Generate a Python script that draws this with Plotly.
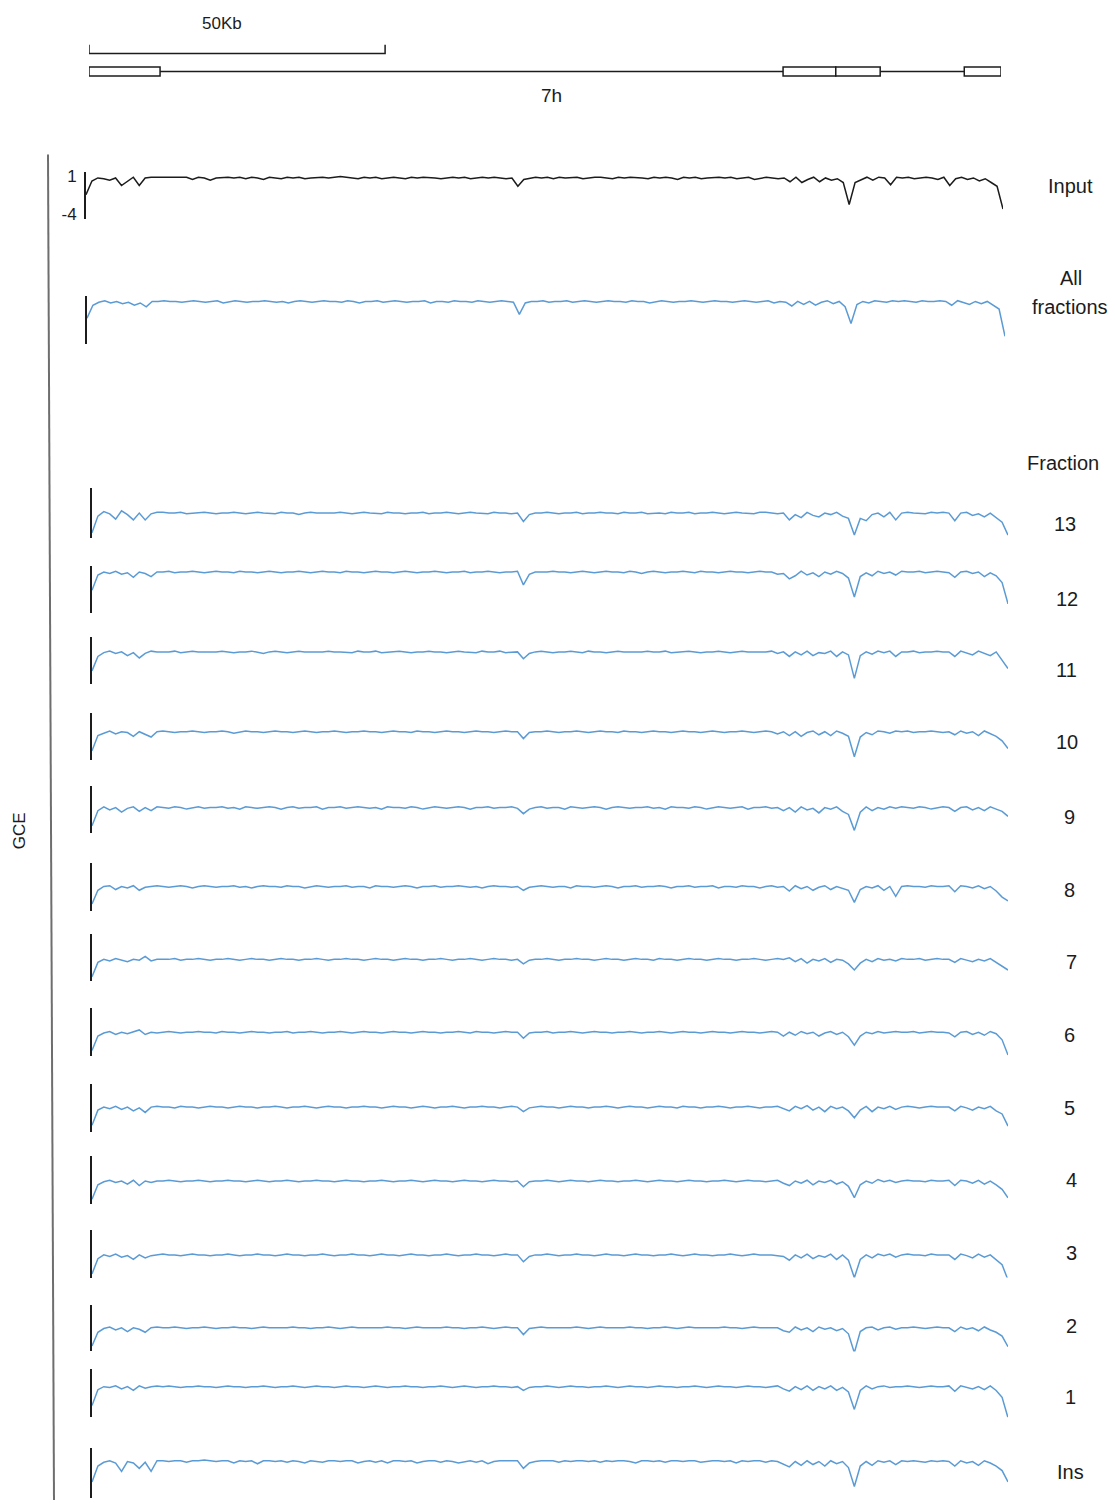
import plotly.graph_objects as go

W, H = 1115, 1505

# ---------------------------------------------------------------- gene model (kb)
GENE_START, GENE_END = 0.0, 154.0
EXON_STARTS = [0.0, 117.2, 126.1, 147.8]
EXON_ENDS = [12.0, 126.1, 133.6, 154.0]
SCALE_BAR_KB = [0.0, 50.0]
SCALE_LABEL = "50Kb"
GENE_LABEL = "7h"

# ---------------------------------------------------------------- coverage signals, 1 kb bins
INPUT = [
    -1.4, 0.4, 0.8, 0.7, 0.5, 0.8, -0.2, 0.4, 0.9, -0.2, 0.8, 0.9,
    0.9, 0.9, 0.8, 0.9, 0.9, 0.9, 0.6, 0.9, 0.8, 0.5, 0.8, 0.9, 0.9, 0.8, 0.9, 0.7, 0.9, 0.8, 0.6, 0.9,
    0.8, 0.7, 0.9, 0.8, 0.9, 0.7, 0.8, 0.9, 0.9, 0.8, 0.9, 1.0, 0.9, 0.8, 0.7, 0.9, 0.8, 0.9, 0.7, 0.8,
    0.9, 0.8, 0.7, 0.9, 0.8, 0.9, 0.9, 0.8, 0.7, 0.8, 0.9, 0.8, 0.9, 0.7, 0.8, 0.9, 0.8, 0.9, 0.8, 0.7,
    0.8,
    -0.3, 0.6,
    0.8, 0.9, 0.8, 0.9, 0.7, 0.9, 0.8, 0.8, 0.9, 0.7, 0.8, 0.9, 0.9, 0.8, 0.7, 0.9, 0.8, 0.9, 0.9, 0.8,
    0.7, 0.9, 0.8, 0.9, 0.8, 0.6, 0.9, 0.8, 0.9, 0.7, 0.8, 0.9, 0.9, 0.8, 0.9, 0.7, 0.8, 0.9, 0.6, 0.8,
    0.9, 0.8, 0.7,
    0.8, 0.3, 0.9, 0.2, 0.6, 0.9, 0.3, 0.8, 0.5, 0.7, 0.2,
    -2.7,
    0.2, 0.6, 0.9, 0.5, 0.9, 0.8, -0.1,
    0.9, 0.8, 0.9, 0.7, 0.8, 0.9, 0.8, 0.6, 0.9,
    -0.2, 0.7, 0.9, 0.6, 0.8, 0.4, 0.7, 0.2, -0.3,
    -3.3,
]

ALL_FRACTIONS = [
    -1.4, 0.3, 0.7, 0.9, 0.6, 0.8, 0.5, 0.7, 0.3, 0.6, 0.1, 0.8,
    0.8, 0.9, 0.8, 0.8, 0.7, 0.8, 0.9, 0.8, 0.7, 0.8, 0.9, 0.6, 0.8, 0.9, 0.8, 0.7, 0.8, 0.8, 0.9, 0.8,
    0.7, 0.8, 0.6, 0.8, 0.9, 0.8, 0.7, 0.8, 0.9, 0.8, 0.8, 0.7, 0.9, 0.8, 0.6, 0.8, 0.8, 0.9, 0.7, 0.8,
    0.9, 0.8, 0.7, 0.8, 0.8, 0.9, 0.6, 0.8, 0.8, 0.7, 0.9, 0.8, 0.8, 0.7, 0.9, 0.8, 0.7, 0.8, 0.9, 0.8,
    0.7,
    -0.9, 0.6,
    0.8, 0.8, 0.9, 0.7, 0.8, 0.8, 0.9, 0.7, 0.8, 0.9, 0.8, 0.7, 0.8, 0.9, 0.8, 0.8, 0.7, 0.9, 0.8, 0.8,
    0.6, 0.8, 0.9, 0.8, 0.7, 0.8, 0.8, 0.9, 0.8, 0.7, 0.8, 0.9, 0.8, 0.8, 0.7, 0.8, 0.9, 0.8, 0.7, 0.8,
    0.9, 0.6, 0.8,
    0.7, 0.2, 0.8, 0.4, 0.8, 0.3, 0.7, 0.9, 0.5, 0.8, 0.1,
    -2.1,
    0.4, 0.8, 0.6, 0.9, 0.8, 0.7, 0.9,
    0.8, 0.9, 0.8, 0.7, 0.9, 0.8, 0.8, 0.9, 0.8,
    0.3, 0.9, 0.7, 0.4, 0.8, 0.5, 0.8, 0.3, -0.2,
    -3.8,
]

FRACTION_13 = [
    -1.8, 0.4, 1.0, 0.7, 0.0, 1.1, 0.6, -0.1, 0.8, -0.1, 0.7, 0.9,
    0.9, 0.8, 0.8, 0.9, 0.7, 0.8, 0.8, 0.9, 0.8, 0.7, 0.8, 0.8, 0.9, 0.8, 0.7, 0.8, 0.9, 0.8, 0.8, 0.7,
    0.9, 0.8, 0.8, 0.6, 0.8, 0.9, 0.8, 0.8, 0.7, 0.8, 0.9, 0.8, 0.7, 0.8, 0.9, 0.8, 0.8, 0.7, 0.9, 0.8,
    0.8, 0.7, 0.8, 0.8, 0.9, 0.7, 0.8, 0.8, 0.9, 0.8, 0.7, 0.8, 0.9, 0.8, 0.8, 0.7, 0.9, 0.8, 0.8, 0.7,
    0.8,
    -0.3, 0.6,
    0.8, 0.8, 0.9, 0.8, 0.7, 0.8, 0.8, 0.9, 0.7, 0.8, 0.8, 0.9, 0.8, 0.8, 0.7, 0.9, 0.8, 0.8, 0.9, 0.7,
    0.8, 0.8, 0.7, 0.9, 0.8, 0.8, 0.9, 0.7, 0.8, 0.8, 0.9, 0.8, 0.7, 0.8, 0.9, 0.8, 0.8, 0.7, 0.9, 0.9,
    0.8, 0.7, 0.8,
    -0.1, 0.6, 0.2, 0.9, 0.5, 0.3, 0.8, 0.6, 0.9, 0.4, 0.1,
    -2.1,
    0.1, -0.2, 0.6, 0.8, 0.3, 0.9, -0.1,
    0.8, 0.9, 0.8, 0.8, 0.7, 0.9, 0.8, 0.9, 0.8,
    -0.2, 0.8, 0.9, 0.5, 0.7, 0.3, 0.8, 0.2, -0.4,
    -2.1,
]

FRACTION_12 = [
    -1.6, 0.4, 0.8, 0.6, 0.9, 0.5, 0.7, 0.1, 0.8, 0.6, 0.2, 0.8,
    0.8, 0.9, 0.7, 0.8, 0.8, 0.9, 0.8, 0.7, 0.8, 0.9, 0.8, 0.8, 0.7, 0.9, 0.8, 0.8, 0.7, 0.8, 0.9, 0.8,
    0.7, 0.8, 0.8, 0.9, 0.8, 0.7, 0.8, 0.9, 0.8, 0.8, 0.7, 0.9, 0.8, 0.8, 0.7, 0.8, 0.9, 0.8, 0.8, 0.7,
    0.8, 0.9, 0.8, 0.7, 0.8, 0.8, 0.9, 0.8, 0.7, 0.8, 0.8, 0.9, 0.7, 0.8, 0.8, 0.9, 0.8, 0.7, 0.8, 0.8,
    0.9,
    -0.9, 0.5,
    0.8, 0.8, 0.8, 0.9, 0.8, 0.8, 0.7, 0.8, 0.9, 0.8, 0.7, 0.8, 0.9, 0.8, 0.8, 0.7, 0.9, 0.8, 0.6, 0.8,
    0.9, 0.8, 0.7, 0.8, 0.8, 0.9, 0.8, 0.7, 0.9, 0.8, 0.8, 0.7, 0.8, 0.9, 0.8, 0.8, 0.7, 0.8, 0.9, 0.8,
    0.8, 0.5, 0.6,
    -0.1, 0.3, 0.9, 0.4, 0.7, 0.2, 0.8, 0.5, 0.9, 0.6, 0.0,
    -2.5,
    0.2, 0.7, 0.3, 0.9, 0.6, 0.8, 0.4,
    0.9, 0.8, 0.8, 0.9, 0.7, 0.8, 0.9, 0.8, 0.7,
    0.1, 0.8, 0.9, 0.6, 0.8, 0.2, 0.7, 0.3, -0.6,
    -3.4,
]

FRACTION_11 = [
    -1.7, 0.2, 0.7, 0.9, 0.6, 0.8, 0.3, 0.7, 0.0, 0.6, 0.9, 0.8,
    0.8, 0.8, 0.9, 0.7, 0.8, 0.9, 0.8, 0.8, 0.7, 0.8, 0.9, 0.8, 0.7, 0.8, 0.8, 0.9, 0.8, 0.6, 0.8, 0.9,
    0.8, 0.7, 0.8, 0.9, 0.8, 0.8, 0.7, 0.8, 0.9, 0.8, 0.8, 0.8, 0.7, 0.9, 0.8, 0.8, 0.9, 0.7, 0.8, 0.8,
    0.9, 0.8, 0.7, 0.8, 0.8, 0.9, 0.8, 0.8, 0.7, 0.8, 0.9, 0.8, 0.8, 0.7, 0.9, 0.8, 0.8, 0.9, 0.7, 0.8,
    0.8,
    -0.1, 0.6,
    0.8, 0.9, 0.8, 0.7, 0.8, 0.8, 0.9, 0.8, 0.7, 0.9, 0.8, 0.8, 0.7, 0.8, 0.9, 0.8, 0.8, 0.7, 0.8, 0.9,
    0.8, 0.8, 0.9, 0.7, 0.8, 0.8, 0.9, 0.8, 0.7, 0.8, 0.8, 0.9, 0.8, 0.7, 0.8, 0.9, 0.8, 0.8, 0.7, 0.8,
    0.9, 0.6, 0.8,
    0.2, 0.8, 0.4, 0.9, 0.3, 0.7, 0.6, 0.9, 0.2, 0.8, 0.4,
    -2.7,
    0.3, 0.8, 0.5, 0.9, 0.7, 0.9, 0.2,
    0.8, 0.8, 0.9, 0.7, 0.8, 0.8, 0.9, 0.8, 0.8,
    0.2, 0.9, 0.7, 0.4, 0.9, 0.6, 0.3, 0.8, -0.3,
    -1.4,
]

FRACTION_10 = [
    -1.7, 0.3, 0.6, 0.9, 0.5, 0.8, 0.7, 0.2, 0.8, 0.5, 0.1, 0.8,
    0.9, 0.8, 0.7, 0.8, 0.8, 0.9, 0.8, 0.7, 0.8, 0.8, 0.9, 0.8, 0.6, 0.8, 0.9, 0.8, 0.8, 0.7, 0.8, 0.9,
    0.8, 0.8, 0.7, 0.8, 0.9, 0.8, 0.7, 0.8, 0.8, 0.9, 0.8, 0.7, 0.8, 0.8, 0.9, 0.8, 0.8, 0.7, 0.8, 0.9,
    0.8, 0.8, 0.7, 0.9, 0.8, 0.8, 0.7, 0.8, 0.9, 0.8, 0.8, 0.7, 0.8, 0.9, 0.8, 0.8, 0.7, 0.8, 0.9, 0.8,
    0.8,
    -0.1, 0.7,
    0.8, 0.8, 0.9, 0.8, 0.7, 0.8, 0.8, 0.9, 0.8, 0.7, 0.8, 0.9, 0.8, 0.8, 0.7, 0.9, 0.8, 0.8, 0.7, 0.8,
    0.9, 0.8, 0.8, 0.7, 0.8, 0.9, 0.8, 0.8, 0.7, 0.8, 0.9, 0.8, 0.7, 0.8, 0.8, 0.9, 0.8, 0.7, 0.8, 0.9,
    0.8, 0.5, 0.8,
    0.3, 0.8, 0.2, 0.7, 0.9, 0.4, 0.8, 0.3, 0.9, 0.6, 0.2,
    -2.5,
    0.1, 0.7, 0.4, 0.9, 0.8, 0.6, 0.9,
    0.8, 0.9, 0.7, 0.8, 0.8, 0.9, 0.8, 0.7, 0.8,
    0.4, 0.9, 0.6, 0.8, 0.3, 0.9, 0.5, 0.2, -0.4,
    -1.4,
]

FRACTION_9 = [
    -1.6, 0.4, 0.9, 0.5, 0.8, 0.2, 0.7, 0.9, 0.3, 0.8, 0.4, 0.9,
    0.8, 0.7, 0.9, 0.8, 0.6, 0.8, 0.9, 0.7, 0.8, 0.8, 0.9, 0.7, 0.8, 0.6, 0.9, 0.8, 0.7, 0.8, 0.9, 0.8,
    0.6, 0.8, 0.9, 0.7, 0.8, 0.8, 0.9, 0.6, 0.8, 0.8, 0.9, 0.7, 0.8, 0.9, 0.8, 0.7, 0.8, 0.6, 0.9, 0.8,
    0.8, 0.7, 0.9, 0.8, 0.6, 0.8, 0.9, 0.8, 0.7, 0.8, 0.9, 0.8, 0.6, 0.8, 0.8, 0.9, 0.7, 0.8, 0.8, 0.9,
    0.7,
    0.0, 0.6,
    0.8, 0.9, 0.7, 0.8, 0.8, 0.6, 0.9, 0.8, 0.7, 0.8, 0.9, 0.8, 0.6, 0.8, 0.9, 0.8, 0.7, 0.8, 0.8, 0.9,
    0.7, 0.8, 0.6, 0.9, 0.8, 0.8, 0.7, 0.9, 0.8, 0.6, 0.8, 0.9, 0.8, 0.7, 0.8, 0.9, 0.6, 0.8, 0.8, 0.9,
    0.7, 0.8, 0.4,
    0.8, 0.2, 0.9, 0.5, 0.7, 0.1, 0.8, 0.6, 0.9, 0.3, -0.1,
    -2.2,
    0.2, 0.9, 0.4, 0.8, 0.6, 0.9, 0.7,
    0.9, 0.8, 0.7, 0.9, 0.8, 0.6, 0.8, 0.9, 0.8,
    0.3, 0.8, 0.9, 0.5, 0.8, 0.4, 0.9, 0.6, 0.3,
    -0.35,
]

FRACTION_8 = [
    -1.5, 0.3, 0.8, 0.9, 0.4, 0.8, 0.6, 0.9, 0.3, 0.7, 0.8, 0.9,
    0.8, 0.7, 0.8, 0.9, 0.8, 0.6, 0.8, 0.9, 0.8, 0.7, 0.8, 0.8, 0.9, 0.7, 0.8, 0.6, 0.8, 0.9, 0.8, 0.8,
    0.7, 0.9, 0.8, 0.8, 0.6, 0.8, 0.9, 0.8, 0.7, 0.8, 0.8, 0.9, 0.7, 0.8, 0.8, 0.6, 0.9, 0.8, 0.8, 0.7,
    0.8, 0.9, 0.8, 0.6, 0.8, 0.8, 0.9, 0.7, 0.8, 0.8, 0.9, 0.8, 0.7, 0.8, 0.6, 0.8, 0.9, 0.8, 0.8, 0.7,
    0.8,
    0.3, 0.7,
    0.8, 0.9, 0.8, 0.7, 0.8, 0.8, 0.6, 0.9, 0.8, 0.8, 0.7, 0.8, 0.9, 0.8, 0.6, 0.8, 0.8, 0.9, 0.7, 0.8,
    0.8, 0.9, 0.8, 0.6, 0.8, 0.8, 0.9, 0.7, 0.8, 0.8, 0.9, 0.6, 0.8, 0.8, 0.7, 0.9, 0.8, 0.8, 0.6, 0.8,
    0.9, 0.7, 0.8,
    0.2, 0.9, 0.5, 0.8, 0.3, 0.7, 0.9, 0.4, 0.8, 0.6, 0.3,
    -1.3,
    0.4, 0.8, 0.6, 0.9, 0.3, 0.8, -0.5,
    0.8, 0.9, 0.8, 0.8, 0.7, 0.9, 0.8, 0.8, 0.9,
    0.1, 0.9, 0.8, 0.6, 0.9, 0.5, 0.8, 0.2, -0.6,
    -1.1,
]

FRACTION_7 = [
    -1.5, 0.4, 0.8, 0.6, 0.9, 0.7, 0.5, 0.8, 0.7, 1.2, 0.6, 0.8,
    0.8, 0.8, 0.9, 0.7, 0.8, 0.8, 0.9, 0.8, 0.7, 0.8, 0.8, 0.9, 0.8, 0.7, 0.8, 0.9, 0.8, 0.8, 0.7, 0.8,
    0.9, 0.8, 0.8, 0.7, 0.8, 0.8, 0.9, 0.8, 0.7, 0.8, 0.8, 0.9, 0.8, 0.8, 0.7, 0.8, 0.9, 0.8, 0.8, 0.7,
    0.8, 0.9, 0.8, 0.8, 0.7, 0.8, 0.8, 0.9, 0.8, 0.7, 0.8, 0.8, 0.9, 0.8, 0.7, 0.8, 0.9, 0.8, 0.8, 0.7,
    0.8,
    0.2, 0.7,
    0.8, 0.8, 0.9, 0.8, 0.7, 0.8, 0.8, 0.9, 0.8, 0.8, 0.7, 0.8, 0.9, 0.8, 0.8, 0.7, 0.8, 0.9, 0.8, 0.8,
    0.7, 0.9, 0.8, 0.8, 0.7, 0.8, 0.9, 0.8, 0.8, 0.7, 0.8, 0.9, 0.8, 0.8, 0.7, 0.8, 0.8, 0.9, 0.8, 0.7,
    0.8, 0.9, 0.8,
    1.0, 0.5, 0.9, 0.3, 0.8, 0.6, 0.9, 0.4, 0.8, 0.7, 0.2,
    -0.6,
    0.3, 0.8, 0.5, 0.9, 0.7, 0.8, 0.6,
    0.9, 0.8, 0.8, 0.9, 0.7, 0.8, 0.9, 0.8, 0.8,
    0.4, 0.9, 0.7, 0.5, 0.8, 0.6, 0.9, 0.4, 0.0,
    -0.6,
]

FRACTION_6 = [
    -1.6, 0.3, 0.7, 0.9, 0.5, 0.8, 0.6, 0.8, 1.1, 0.5, 0.8, 0.7,
    0.8, 0.9, 0.8, 0.7, 0.8, 0.8, 0.9, 0.8, 0.8, 0.7, 0.9, 0.8, 0.8, 0.7, 0.8, 0.9, 0.8, 0.8, 0.7, 0.8,
    0.8, 0.9, 0.7, 0.8, 0.8, 0.9, 0.8, 0.7, 0.8, 0.8, 0.9, 0.8, 0.7, 0.8, 0.9, 0.8, 0.8, 0.7, 0.8, 0.9,
    0.8, 0.8, 0.7, 0.8, 0.9, 0.8, 0.8, 0.7, 0.8, 0.8, 0.9, 0.8, 0.7, 0.9, 0.8, 0.8, 0.7, 0.8, 0.9, 0.8,
    0.8,
    0.0, 0.7,
    0.8, 0.8, 0.9, 0.7, 0.8, 0.8, 0.9, 0.8, 0.7, 0.8, 0.9, 0.8, 0.8, 0.7, 0.8, 0.8, 0.9, 0.8, 0.7, 0.8,
    0.8, 0.9, 0.8, 0.7, 0.8, 0.9, 0.8, 0.8, 0.7, 0.8, 0.9, 0.8, 0.8, 0.7, 0.8, 0.9, 0.8, 0.8, 0.7, 0.8,
    0.9, 0.8, 0.3,
    0.8, 0.4, 0.9, 0.6, 0.8, 0.3, 0.7, 0.9, 0.5, 0.8, 0.2,
    -0.9,
    0.3, 0.8, 0.6, 0.9, 0.7, 0.8, 0.9,
    0.8, 0.8, 0.9, 0.7, 0.8, 0.9, 0.8, 0.8, 0.7,
    0.2, 0.8, 0.9, 0.5, 0.8, 0.4, 0.9, 0.6, -0.2,
    -2.2,
]

FRACTION_5 = [
    -1.6, 0.4, 0.8, 0.6, 0.9, 0.5, 0.8, 0.3, 0.7, 0.1, 0.8, 0.9,
    0.8, 0.8, 0.7, 0.9, 0.8, 0.8, 0.7, 0.8, 0.9, 0.8, 0.8, 0.7, 0.8, 0.9, 0.8, 0.8, 0.7, 0.8, 0.8, 0.9,
    0.8, 0.7, 0.8, 0.8, 0.9, 0.8, 0.7, 0.8, 0.9, 0.8, 0.8, 0.7, 0.8, 0.8, 0.9, 0.8, 0.8, 0.7, 0.8, 0.9,
    0.8, 0.8, 0.7, 0.8, 0.9, 0.8, 0.7, 0.8, 0.8, 0.9, 0.8, 0.7, 0.8, 0.8, 0.9, 0.8, 0.8, 0.7, 0.8, 0.9,
    0.8,
    0.2, 0.7,
    0.8, 0.9, 0.8, 0.8, 0.7, 0.8, 0.9, 0.8, 0.8, 0.7, 0.8, 0.8, 0.9, 0.8, 0.7, 0.8, 0.9, 0.8, 0.8, 0.7,
    0.8, 0.9, 0.8, 0.8, 0.7, 0.9, 0.8, 0.8, 0.7, 0.8, 0.8, 0.9, 0.8, 0.7, 0.8, 0.8, 0.9, 0.8, 0.7, 0.8,
    0.8, 0.9, 0.6,
    0.3, 0.9, 0.6, 1.0, 0.4, 0.8, 0.2, 0.9, 0.6, 0.8, 0.3,
    -0.6,
    0.4, 0.9, 0.2, 0.8, 0.6, 0.9, 0.5,
    0.8, 0.9, 0.8, 0.7, 0.8, 0.9, 0.8, 0.8, 0.8,
    0.3, 0.9, 0.7, 0.4, 0.8, 0.6, 0.9, 0.3, -0.1,
    -1.7,
]

FRACTION_4 = [
    -1.6, 0.3, 0.7, 0.9, 0.6, 0.8, 0.4, 0.9, 0.2, 0.8, 0.6, 0.8,
    0.8, 0.9, 0.8, 0.7, 0.8, 0.8, 0.9, 0.8, 0.7, 0.8, 0.8, 0.9, 0.8, 0.8, 0.7, 0.8, 0.9, 0.8, 0.7, 0.8,
    0.8, 0.9, 0.8, 0.7, 0.8, 0.8, 0.9, 0.8, 0.8, 0.7, 0.8, 0.9, 0.8, 0.8, 0.7, 0.8, 0.8, 0.9, 0.8, 0.7,
    0.8, 0.8, 0.9, 0.8, 0.7, 0.8, 0.9, 0.8, 0.8, 0.7, 0.8, 0.9, 0.8, 0.8, 0.7, 0.8, 0.9, 0.8, 0.8, 0.7,
    0.8,
    0.05, 0.7,
    0.8, 0.8, 0.9, 0.8, 0.7, 0.8, 0.9, 0.8, 0.8, 0.7, 0.8, 0.9, 0.8, 0.8, 0.7, 0.8, 0.8, 0.9, 0.8, 0.7,
    0.8, 0.9, 0.8, 0.8, 0.7, 0.8, 0.9, 0.8, 0.8, 0.7, 0.8, 0.8, 0.9, 0.8, 0.7, 0.8, 0.9, 0.8, 0.8, 0.7,
    0.8, 0.9, 0.5,
    0.2, 0.8, 0.5, 0.9, 0.3, 0.8, 0.6, 0.9, 0.4, 0.7, 0.1,
    -1.4,
    0.3, 0.8, 0.5, 1.0, 0.7, 0.9, 0.6,
    0.8, 0.9, 0.8, 0.8, 0.7, 0.9, 0.8, 0.8, 0.9,
    0.2, 0.9, 0.8, 0.5, 0.9, 0.4, 0.8, 0.3, -0.3,
    -1.4,
]

FRACTION_3 = [
    -1.7, 0.3, 0.8, 0.6, 0.9, 0.5, 0.7, 0.2, 0.8, 0.4, 0.7, 0.8,
    0.9, 0.8, 0.8, 0.7, 0.8, 0.9, 0.8, 0.8, 0.7, 0.8, 0.8, 0.9, 0.8, 0.7, 0.8, 0.8, 0.9, 0.8, 0.8, 0.7,
    0.8, 0.9, 0.8, 0.8, 0.7, 0.8, 0.8, 0.9, 0.8, 0.7, 0.8, 0.8, 0.9, 0.8, 0.8, 0.7, 0.8, 0.9, 0.8, 0.8,
    0.7, 0.8, 0.9, 0.8, 0.8, 0.7, 0.8, 0.8, 0.9, 0.8, 0.7, 0.8, 0.8, 0.9, 0.8, 0.8, 0.7, 0.8, 0.9, 0.8,
    0.8,
    -0.1, 0.6,
    0.8, 0.8, 0.9, 0.8, 0.7, 0.8, 0.8, 0.9, 0.8, 0.8, 0.7, 0.8, 0.9, 0.8, 0.8, 0.7, 0.8, 0.9, 0.8, 0.8,
    0.7, 0.8, 0.8, 0.9, 0.8, 0.7, 0.8, 0.9, 0.8, 0.8, 0.7, 0.8, 0.8, 0.9, 0.8, 0.7, 0.8, 0.9, 0.8, 0.8,
    0.8, 0.7, 0.6,
    0.1, 0.8, 0.4, 0.9, 0.3, 0.7, 0.5, 0.9, 0.2, 0.8, 0.1,
    -2.2,
    0.2, 0.8, 0.4, 0.9, 0.7, 0.9, 0.5,
    0.8, 0.9, 0.8, 0.8, 0.7, 0.9, 0.8, 0.8, 0.8,
    0.2, 0.9, 0.7, 0.4, 0.9, 0.5, 0.8, 0.2, -0.5,
    -2.5,
]

FRACTION_2 = [
    -1.6, 0.2, 0.7, 0.9, 0.5, 0.8, 0.3, 0.8, 0.6, 0.2, 0.8, 0.9,
    0.8, 0.8, 0.9, 0.8, 0.7, 0.8, 0.8, 0.9, 0.8, 0.7, 0.8, 0.8, 0.9, 0.8, 0.8, 0.7, 0.8, 0.9, 0.8, 0.8,
    0.7, 0.8, 0.9, 0.8, 0.8, 0.7, 0.8, 0.8, 0.9, 0.8, 0.7, 0.8, 0.9, 0.8, 0.8, 0.7, 0.8, 0.8, 0.9, 0.8,
    0.8, 0.7, 0.8, 0.9, 0.8, 0.8, 0.7, 0.8, 0.9, 0.8, 0.8, 0.7, 0.8, 0.8, 0.9, 0.8, 0.7, 0.8, 0.9, 0.8,
    0.8,
    -0.1, 0.7,
    0.8, 0.9, 0.8, 0.8, 0.7, 0.8, 0.8, 0.9, 0.8, 0.7, 0.8, 0.9, 0.8, 0.8, 0.7, 0.8, 0.9, 0.8, 0.8, 0.7,
    0.8, 0.8, 0.9, 0.8, 0.7, 0.8, 0.9, 0.8, 0.8, 0.7, 0.8, 0.8, 0.9, 0.8, 0.8, 0.7, 0.8, 0.9, 0.8, 0.8,
    0.7, 0.8, 0.4,
    0.2, 0.9, 0.5, 0.8, 0.3, 0.9, 0.6, 0.8, 0.4, 0.7, 0.0,
    -2.5,
    0.3, 0.8, 0.9, 0.5, 0.8, 0.9, 0.6,
    0.8, 0.8, 0.9, 0.8, 0.7, 0.8, 0.9, 0.8, 0.8,
    0.3, 0.9, 0.6, 0.8, 0.4, 0.9, 0.5, 0.2, -0.3,
    -1.7,
]

FRACTION_1 = [
    -1.7, 0.4, 0.8, 0.7, 0.9, 0.5, 0.8, 0.3, 0.9, 0.6, 0.8, 0.9,
    0.8, 0.9, 0.8, 0.7, 0.8, 0.8, 0.9, 0.8, 0.8, 0.7, 0.8, 0.9, 0.8, 0.8, 0.7, 0.8, 0.8, 0.9, 0.8, 0.7,
    0.8, 0.8, 0.9, 0.8, 0.7, 0.8, 0.9, 0.8, 0.8, 0.7, 0.8, 0.9, 0.8, 0.8, 0.7, 0.8, 0.9, 0.8, 0.7, 0.8,
    0.8, 0.9, 0.8, 0.8, 0.7, 0.8, 0.8, 0.9, 0.8, 0.7, 0.8, 0.9, 0.8, 0.7, 0.8, 0.8, 0.9, 0.8, 0.8, 0.7,
    0.8,
    0.3, 0.7,
    0.8, 0.8, 0.9, 0.8, 0.7, 0.8, 0.9, 0.8, 0.8, 0.7, 0.8, 0.8, 0.9, 0.8, 0.7, 0.8, 0.9, 0.8, 0.8, 0.7,
    0.8, 0.9, 0.8, 0.8, 0.7, 0.8, 0.8, 0.9, 0.8, 0.7, 0.8, 0.9, 0.8, 0.8, 0.7, 0.8, 0.9, 0.8, 0.8, 0.7,
    0.8, 0.9, 0.5,
    0.2, 0.8, 0.4, 0.9, 0.3, 0.8, 0.5, 0.9, 0.3, 0.7, 0.1,
    -2.2,
    0.3, 0.9, 0.5, 0.8, 0.9, 0.7, 0.8,
    0.8, 0.9, 0.8, 0.7, 0.8, 0.9, 0.8, 0.8, 0.9,
    0.2, 0.9, 0.7, 0.5, 0.8, 0.4, 0.9, 0.3, -0.6,
    -3.3,
]

FRACTION_INS = [
    -1.9, 0.2, 0.7, 0.9, 0.6, -0.5, 0.8, 0.6, -0.1, 0.7, -0.5, 0.9,
    0.9, 0.8, 0.9, 0.9, 0.7, 0.9, 0.9, 1.0, 0.9, 0.8, 0.9, 0.9, 0.6, 0.9, 0.8, 0.9, 0.5, 0.9, 0.9, 0.8,
    0.9, 0.7, 0.9, 0.8, 0.6, 0.9, 0.8, 0.7, 0.9, 0.9, 0.8, 0.9, 0.9, 0.6, 0.8, 0.9, 0.7, 0.9, 0.6, 0.9,
    0.9, 0.8, 0.9, 0.6, 0.8, 0.9, 0.9, 0.7, 0.9, 0.8, 0.6, 0.8, 0.9, 0.7, 0.9, 0.5, 0.8, 0.9, 0.9, 0.9,
    0.9,
    -0.1, 0.6,
    0.8, 0.9, 0.9, 0.9, 0.7, 0.9, 0.8, 0.9, 0.9, 0.8, 0.9, 0.7, 0.9, 0.8, 0.9, 0.9, 0.8, 0.6, 0.9, 0.9,
    0.8, 0.9, 0.7, 0.9, 0.9, 0.8, 0.9, 0.9, 0.7, 0.8, 0.9, 0.9, 0.8, 0.9, 0.6, 0.9, 0.8, 0.9, 0.9, 0.7,
    0.9, 0.8, 0.4,
    0.1, 0.8, 0.3, 0.9, 0.4, 0.8, 0.2, 0.9, 0.5, 0.8, 0.0,
    -2.5,
    0.2, 0.8, 0.3, 0.9, 0.7, 0.9, 0.4,
    0.9, 0.8, 0.9, 0.8, 0.7, 0.9, 0.8, 0.9, 0.8,
    0.2, 0.9, 0.6, 0.8, 0.3, 0.9, 0.6, 0.2, -0.4,
    -1.9,
]

TRACK_LABELS = ["Input", "All fractions", "13", "12", "11", "10", "9", "8",
                "7", "6", "5", "4", "3", "2", "1", "Ins"]
TRACK_VALUES = [INPUT, ALL_FRACTIONS, FRACTION_13, FRACTION_12, FRACTION_11,
                FRACTION_10, FRACTION_9, FRACTION_8, FRACTION_7, FRACTION_6,
                FRACTION_5, FRACTION_4, FRACTION_3, FRACTION_2, FRACTION_1,
                FRACTION_INS]
INPUT_TICKS = [1, -4]

# ---------------------------------------------------------------- styling / placement (pixels)
BLACK = "#1c1c1c"
BLUE = "#5b9bd5"
FONT = "Liberation Sans, Arial, sans-serif"

# per track: x-start, x-end, y-top, y-bottom (px) and the y range shown
TRACK_BOX = [
    (86, 1003, 171, 218, -4.66, 1.53),
    (87, 1005, 295, 343, -4.83, 1.49),
    (92, 1008, 487, 537, -2.46, 4.12),
    (92, 1008, 565, 612, -4.56, 1.62),
    (92, 1008, 636, 683, -3.38, 2.81),
    (92, 1008, 712, 760, -2.98, 3.33),
    (92, 1008, 786, 833, -2.59, 3.59),
    (92, 1008, 863, 911, -2.46, 3.86),
    (92, 1008, 934, 981, -2.06, 4.12),
    (92, 1008, 1008, 1056, -2.33, 3.99),
    (92, 1008, 1084, 1132, -2.46, 3.86),
    (92, 1008, 1156, 1204, -2.19, 4.12),
    (92, 1008, 1230, 1278, -2.19, 4.12),
    (92, 1008, 1305, 1352, -2.33, 3.86),
    (92, 1008, 1370, 1418, -3.25, 3.07),
    (92, 1008, 1449, 1499, -4.04, 2.54),
]

# vertical placement is laid out on a slightly taller sheet than the page
SHEET_TOP, SHEET_SCALE = 3.3, 0.995


def px_x(x):
    return x / W


def px_y(y):
    return 1 - ((y - SHEET_TOP) / SHEET_SCALE) / H


fig = go.Figure()
layout = {}

for i, (vals, box) in enumerate(zip(TRACK_VALUES, TRACK_BOX), start=1):
    x0, x1, y0, y1, lo, hi = box
    color = BLACK if i == 1 else BLUE
    fig.add_trace(go.Scatter(
        x=list(range(len(vals))), y=vals, mode="lines",
        line=dict(color=color, width=1.5), xaxis=f"x{i}", yaxis=f"y{i}",
        showlegend=False, hoverinfo="skip",
    ))
    layout[f"xaxis{i}"] = dict(domain=[px_x(x0), px_x(x1)], range=[0, 155],
                               visible=False, anchor=f"y{i}")
    yax = dict(domain=[max(0.0, px_y(y1)), min(1.0, px_y(y0))], range=[lo, hi],
               anchor=f"x{i}", showline=True, linecolor=BLACK, linewidth=2,
               showgrid=False, zeroline=False, ticks="", showticklabels=False)
    if i == 1:
        yax.update(showticklabels=True, tickvals=INPUT_TICKS,
                   ticktext=[str(v) for v in INPUT_TICKS],
                   tickfont=dict(family=FONT, size=17, color=BLACK),
                   ticklabelstandoff=4)
    layout[f"yaxis{i}"] = yax

# gene model axis
g = len(TRACK_VALUES) + 1
layout[f"xaxis{g}"] = dict(domain=[px_x(89), px_x(1001)], range=[0, 154],
                           visible=False, anchor=f"y{g}")
layout[f"yaxis{g}"] = dict(domain=[px_y(105), px_y(35)], range=[-7 / 6, 7 / 6],
                           visible=False, anchor=f"x{g}")

shapes = []
gx, gy = f"x{g}", f"y{g}"
shapes.append(dict(type="line", xref=gx, yref=gy, x0=GENE_START, x1=GENE_END,
                   y0=0, y1=0, line=dict(color=BLACK, width=1.5)))
for s, e in zip(EXON_STARTS, EXON_ENDS):
    shapes.append(dict(type="rect", xref=gx, yref=gy, x0=s, x1=e, y0=-0.15, y1=0.15,
                       fillcolor="white", line=dict(color=BLACK, width=1.5)))
shapes.append(dict(type="path", xref=gx, yref=gy,
                   path=(f"M {SCALE_BAR_KB[0]},0.9 L {SCALE_BAR_KB[0]},0.6 "
                         f"L {SCALE_BAR_KB[1]},0.6 L {SCALE_BAR_KB[1]},0.9"),
                   line=dict(color=BLACK, width=1.5)))
# long bracket line on the left side
shapes.append(dict(type="line", xref="paper", yref="paper",
                   x0=px_x(48), y0=px_y(153), x1=px_x(54), y1=0,
                   line=dict(color="#6e6e6e", width=2)))

annotations = []


def text(t, x, y, size=20, angle=0):
    annotations.append(dict(text=t, x=px_x(x), y=px_y(y), xref="paper", yref="paper",
                            showarrow=False, xanchor="center", yanchor="middle",
                            textangle=angle,
                            font=dict(family=FONT, size=size, color=BLACK)))


text(SCALE_LABEL, 222, 22, size=17)
text(GENE_LABEL, 551, 94, size=19)
text("GCE", 19, 831, size=17, angle=-90)
text("Input", 1070, 185)
text("All", 1071, 277)
text("fractions", 1070, 306)
text("Fraction", 1063, 462)

LABEL_POS = [(1065, 523), (1067, 598), (1066, 669), (1067, 742), (1069, 817),
             (1069, 890), (1071, 962), (1069, 1035), (1069, 1108), (1071, 1180),
             (1071, 1253), (1071, 1326), (1070, 1398), (1070, 1473)]
for lab, (lx, ly) in zip(TRACK_LABELS[2:], LABEL_POS):
    text(lab, lx, ly)

fig.update_layout(
    width=W, height=H, margin=dict(l=0, r=0, t=0, b=0),
    paper_bgcolor="white", plot_bgcolor="white",
    shapes=shapes, annotations=annotations, showlegend=False,
    **layout,
)

fig.write_html("out.html")
